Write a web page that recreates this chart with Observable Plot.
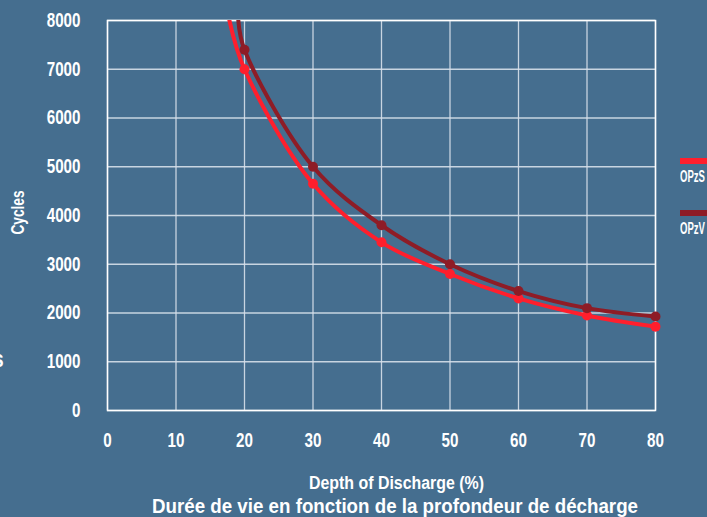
<!DOCTYPE html>
<html><head><meta charset="utf-8">
<script src="https://cdn.jsdelivr.net/npm/d3@7"></script>
<script src="https://cdn.jsdelivr.net/npm/@observablehq/plot@0.6"></script>
<style>
html,body{margin:0;padding:0;background:#456e8f;width:707px;height:517px;overflow:hidden;}
body{position:relative;font-family:"Liberation Sans",Arial,sans-serif;font-weight:bold;color:#fff;}
#chart{position:absolute;left:0;top:0;}
.fit{position:absolute;white-space:nowrap;line-height:1;transform-origin:0 0;}
.legline{position:absolute;left:680px;width:30px;height:6px;}
</style></head>
<body>
<div id="chart"></div>
<div class="fit" id="xlabel" data-cx="396" data-w="175" style="top:474px;font-size:18px;">Depth of Discharge (%)</div>
<div class="fit" id="title" data-cx="395" data-w="486" style="top:495px;font-size:21px;">Durée de vie en fonction de la profondeur de décharge</div>
<div class="legline" style="top:158px;background:#ff1f2d"></div>
<div class="fit" data-left="680" data-w="25" style="top:169px;font-size:16px;">OPzS</div>
<div class="legline" style="top:210px;background:#8e1c26"></div>
<div class="fit" data-left="680" data-w="25" style="top:221px;font-size:16px;">OPzV</div>
<div class="fit" id="stray" style="left:-7px;top:347px;font-size:24px;transform:scaleX(0.8);">s</div>
<script>
const depth = [20, 30, 40, 50, 60, 70, 80];
const opzs = [7000, 4650, 3450, 2800, 2300, 1950, 1720];
const opzv = [7400, 5000, 3800, 3000, 2450, 2100, 1930];
// where each curve leaves the top of the frame
const opzsTop = {depth: 17.8, cycles: 8000};
const opzvTop = {depth: 19.1, cycles: 8000};
const xTicks = [0, 10, 20, 30, 40, 50, 60, 70, 80];
const yTicks = [0, 1000, 2000, 3000, 4000, 5000, 6000, 7000, 8000];
const seriesNames = ["OPzS", "OPzV"];
const colors = ["#ff1f2d", "#8e1c26"];

const rows = [];
depth.forEach((d, i) => rows.push({series: "OPzS", depth: d, cycles: opzs[i]}));
depth.forEach((d, i) => rows.push({series: "OPzV", depth: d, cycles: opzv[i]}));
const lineRows = [
  {series: "OPzS", ...opzsTop}, ...rows.filter(r => r.series === "OPzS"),
  {series: "OPzV", ...opzvTop}, ...rows.filter(r => r.series === "OPzV")
];

const chart = Plot.plot({
  width: 707,
  height: 470,
  marginLeft: 107,
  marginRight: 52,
  marginTop: 20,
  marginBottom: 60,
  style: {background: "transparent", color: "#fff", fontFamily: "'Liberation Sans',Arial,sans-serif", fontWeight: "bold", fontSize: "20px", overflow: "visible"},
  x: {domain: [0, 80], ticks: xTicks, label: null, tickSize: 0, tickPadding: 22},
  y: {domain: [0, 8000], ticks: yTicks, label: null, tickSize: 0, tickPadding: 27, tickFormat: d => String(d)},
  color: {domain: seriesNames, range: colors},
  marks: [
    Plot.gridX(xTicks, {stroke: "#d6e0ea", strokeOpacity: 0.9, strokeWidth: 1.3}),
    Plot.gridY(yTicks, {stroke: "#d6e0ea", strokeOpacity: 0.9, strokeWidth: 1.3}),
    Plot.frame({stroke: "#ffffff", strokeWidth: 1.5}),
    Plot.line(lineRows, {x: "depth", y: "cycles", z: "series", stroke: "series", strokeWidth: 4, curve: "catmull-rom", clip: true}),
    Plot.dot(rows, {x: "depth", y: "cycles", fill: "series", r: 5, stroke: null}),
    Plot.text(["Cycles"], {frameAnchor: "left", dx: -89, dy: 19, rotate: -90, text: d => d, fontSize: 18, fill: "#fff"})
  ]
});
document.getElementById("chart").appendChild(chart);
// condense the SVG texts to match the narrow typeface
chart.querySelectorAll("text").forEach(t => {
  const tr = t.getAttribute("transform") || "";
  t.setAttribute("transform", tr + " scale(0.76,1)");
});
// condense and place the HTML texts
document.querySelectorAll(".fit[data-w]").forEach(el => {
  const w = el.getBoundingClientRect().width;
  const target = +el.dataset.w;
  const s = target / w;
  const left = el.dataset.cx ? (+el.dataset.cx - target / 2) : +el.dataset.left;
  el.style.left = left + "px";
  el.style.transform = `scaleX(${s})`;
});
</script>
</body></html>
